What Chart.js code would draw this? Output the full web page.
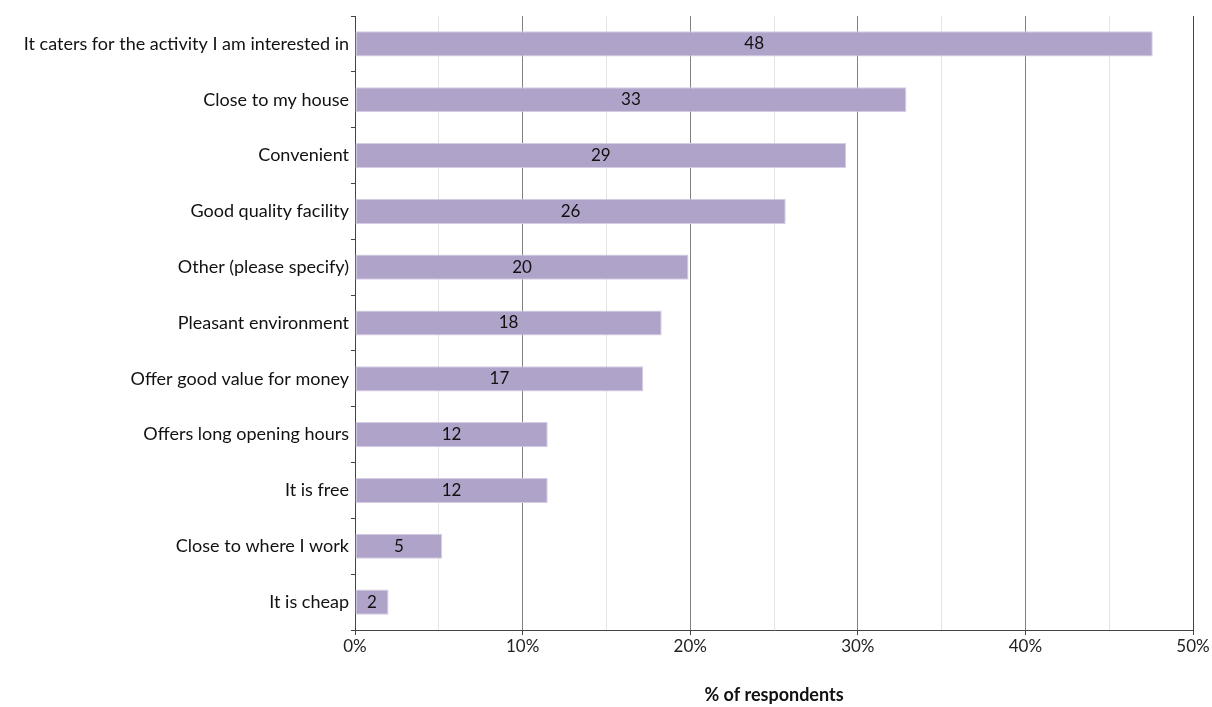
<!DOCTYPE html>
<html>
<head>
<meta charset="utf-8">
<script src="https://cdn.jsdelivr.net/npm/chart.js@4.4.1/dist/chart.umd.min.js"></script>
<style>
  html, body { margin: 0; padding: 0; background: #fff; }
  #wrap { width: 1212px; height: 707px; }
</style>
</head>
<body>
<div id="wrap"><canvas id="reasonsChart"></canvas></div>
<script>
// Reasons for choosing a facility, % of respondents
const reasons = [
  "It caters for the activity I am interested in",
  "Close to my house",
  "Convenient",
  "Good quality facility",
  "Other (please specify)",
  "Pleasant environment",
  "Offer good value for money",
  "Offers long opening hours",
  "It is free",
  "Close to where I work",
  "It is cheap",
];
const percentages = [47.6, 32.9, 29.3, 25.7, 19.9, 18.3, 17.2, 11.5, 11.5, 5.2, 2.0];

const axisTitle = "% of respondents";
const fontFamily = "Lato, 'Open Sans', sans-serif";

// Writes the rounded value in the middle of every bar
const barValueLabels = {
  id: "barValueLabels",
  afterDatasetsDraw(chart) {
    const ctx = chart.ctx;
    const meta = chart.getDatasetMeta(0);
    ctx.save();
    ctx.font = "17px " + fontFamily;
    ctx.fillStyle = "#111";
    ctx.textAlign = "center";
    ctx.textBaseline = "middle";
    meta.data.forEach((bar, i) => {
      const mid = (bar.x + bar.base) / 2;
      ctx.fillText(String(Math.round(percentages[i])), mid, bar.y);
    });
    ctx.restore();
  },
};

const ctx = document.getElementById("reasonsChart").getContext("2d");
new Chart(ctx, {
  type: "bar",
  data: {
    labels: reasons,
    datasets: [
      {
        data: percentages,
        backgroundColor: "#b0a3c9",
        borderColor: "#d6cde4",
        borderWidth: 1,
        borderSkipped: false,
        barPercentage: 0.9,
        categoryPercentage: 0.5,
      },
    ],
  },
  options: {
    indexAxis: "y",
    responsive: true,
    maintainAspectRatio: false,
    animation: false,
    layout: { padding: { top: 16, right: 19, bottom: 1, left: 0 } },
    plugins: {
      legend: { display: false },
      tooltip: { enabled: false },
    },
    scales: {
      x: {
        min: 0,
        max: 50,
        ticks: {
          stepSize: 5,
          autoSkip: false,
          maxRotation: 0,
          color: "#222",
          font: { family: fontFamily, size: 17 },
          padding: 1,
          callback: (v) => (v % 10 === 0 ? v + "%" : ""),
        },
        grid: {
          color: (c) => {
            const v = c.tick ? c.tick.value : 0;
            if (v === 50) return "#444";
            return v % 10 === 0 ? "#808080" : "#e4e4e4";
          },
          tickColor: (c) => {
            const v = c.tick ? c.tick.value : 0;
            return v % 10 === 0 ? "#444" : "rgba(0,0,0,0)";
          },
          tickLength: 5,
          lineWidth: 1,
        },
        border: { display: true, color: "#444", width: 1 },
        title: {
          display: true,
          text: axisTitle,
          color: "#111",
          font: { family: fontFamily, size: 18, weight: "bold" },
          padding: { top: 28, bottom: 0 },
        },
        afterFit: (scale) => {
          scale.height = 76;
        },
      },
      y: {
        ticks: {
          color: "#111",
          font: { family: fontFamily, size: 18 },
          padding: 2,
          autoSkip: false,
        },
        grid: {
          offset: true,
          drawOnChartArea: false,
          tickColor: "#444",
          tickLength: 4,
        },
        border: { display: true, color: "#444", width: 1 },
        afterFit: (scale) => {
          scale.width = 355;
        },
      },
    },
  },
  plugins: [barValueLabels],
});
</script>
</body>
</html>
